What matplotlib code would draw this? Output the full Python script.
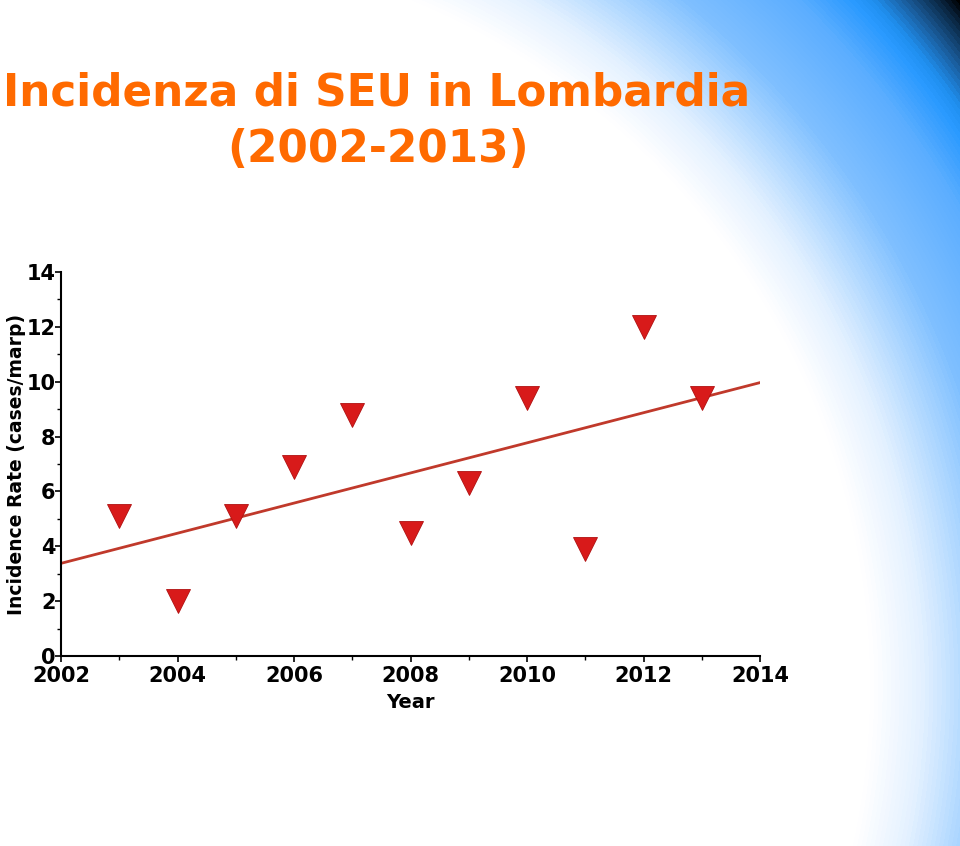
import numpy as np
import matplotlib
matplotlib.use('Agg')
import matplotlib.pyplot as plt
from matplotlib.colors import LinearSegmentedColormap
from matplotlib.ticker import MultipleLocator

years = [2003, 2004, 2005, 2006, 2007, 2008, 2009, 2010, 2011, 2012, 2013]
rates = [5.1, 2.0, 5.1, 6.9, 8.8, 4.5, 6.3, 9.4, 3.9, 12.0, 9.4]

title1 = 'Incidenza di SEU in Lombardia'
title2 = '(2002-2013)'

W, H = 960, 846
fig = plt.figure(figsize=(W / 100, H / 100), dpi=100)

# background: radial gradient, white in the middle, blue then black toward the top-right corner
bg = fig.add_axes([0, 0, 1, 1])
xx, yy = np.meshgrid(np.arange(W), np.arange(H))
d = np.sqrt((xx - 127.0) ** 2 + (yy - 686.0) ** 2)
rmax = 1080.0
stops = [(0.0, 'white'), (745, 'white'), (795, '#e4f1ff'), (835, '#b8dcff'),
         (885, '#80c0ff'), (960, '#5caeff'), (1000, '#2a9aff'), (1015, '#2090f0'),
         (1040, '#1a5a98'), (1065, '#0a2540'), (rmax, 'black')]
cmap = LinearSegmentedColormap.from_list('bg', [(p / rmax, c) for p, c in stops])
bg.imshow(np.clip(d / rmax, 0, 1), cmap=cmap, vmin=0, vmax=1, aspect='auto',
          extent=[0, W, H, 0])
bg.set_axis_off()

fig.text(3 / W, 1 - 93 / H, title1, color='#ff6a00', fontsize=31.5, fontweight='bold',
         ha='left', va='center')
fig.text(378 / W, 1 - 150 / H, title2, color='#ff6a00', fontsize=31.5, fontweight='bold',
         ha='center', va='center')

ax = fig.add_axes([61 / W, 190 / H, 699 / W, 384 / H])
ax.set_facecolor('none')

slope, icpt = np.polyfit(years, rates, 1)
xs = np.array([2002, 2014])
ax.plot(xs, slope * xs + icpt, color='#c0392b', lw=2, zorder=2)
ax.plot(years, rates, 'v', color='#d81a1a', mec='#b01010', mew=0.6, ms=17, zorder=3)

ax.set_xlim(2002, 2014)
ax.set_ylim(0, 14)
ax.xaxis.set_major_locator(MultipleLocator(2))
ax.xaxis.set_minor_locator(MultipleLocator(1))
ax.yaxis.set_major_locator(MultipleLocator(2))
ax.yaxis.set_minor_locator(MultipleLocator(1))
for s in ['top', 'right']:
    ax.spines[s].set_visible(False)
for s in ['left', 'bottom']:
    ax.spines[s].set_linewidth(1.5)
ax.tick_params(which='major', length=4, width=1.2, labelsize=15)
ax.tick_params(which='minor', length=3, width=1.0)
ax.tick_params(axis='y', pad=0)
ax.tick_params(axis='x', pad=3)
for lab in ax.get_xticklabels() + ax.get_yticklabels():
    lab.set_fontweight('bold')
ax.set_xlabel('Year', fontsize=14, fontweight='bold', labelpad=5)
ax.set_ylabel('Incidence Rate (cases/marp)', fontsize=13.5, fontweight='bold')
ax.yaxis.set_label_coords(-0.05, 0.5)

fig.savefig('out.png', dpi=100)
